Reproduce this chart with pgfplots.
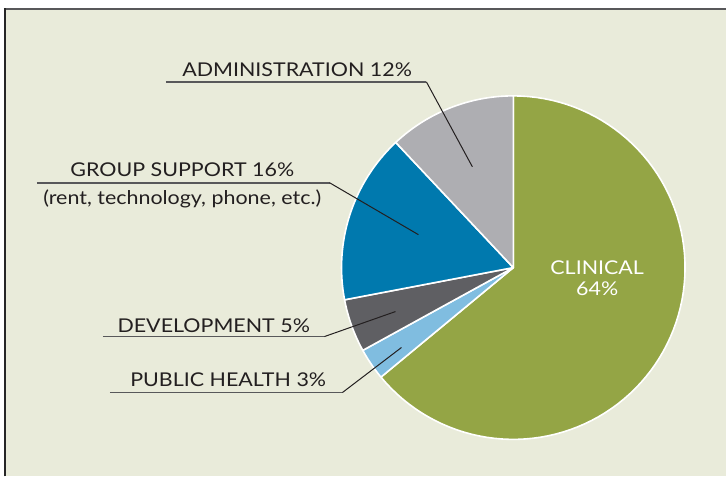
\documentclass[border=0pt]{standalone}
\usepackage{pgfplots}
\pgfplotsset{compat=1.18}
\usepackage{fontspec}
\setmainfont{Lato}[FakeStretch=1.13]
\definecolor{bg}{HTML}{E9EBDA}
\definecolor{clin}{HTML}{94A545}
\definecolor{ph}{HTML}{80BDE0}
\definecolor{dev}{HTML}{5F5F63}
\definecolor{gs}{HTML}{0079AE}
\definecolor{adm}{HTML}{AEAEB2}
\definecolor{txt}{HTML}{231F20}
\definecolor{ul}{HTML}{58585A}
% slice: #1 = cumulative share before slice (%), #2 = share (%), #3 = colour
\newcommand\slice[3]{%
  \addplot[fill=#3, draw=white, line width=1.6pt, line join=round,
    domain={90-3.6*(#1+#2)}:{90-3.6*(#1)}, samples=90, variable=\t]
    ({514+172*cos(\t)},{209+172*sin(\t)}) -- (axis cs:514,209) -- cycle;}
\begin{document}
\begin{tikzpicture}
\begin{axis}[hide axis, scale only axis, width=727pt, height=477pt,
  xmin=0, xmax=727, ymin=0, ymax=477, clip=false]
\fill[white] (axis cs:0,0) rectangle (axis cs:727,477);
\fill[bg] (axis cs:5,0) rectangle (axis cs:727,468);
\draw[ul, line width=2pt] (axis cs:4,468) -- (axis cs:727,468);
\draw[black!85, line width=1.6pt] (axis cs:5,0) -- (axis cs:5,469);
% CLINICAL 64, PUBLIC HEALTH 3, DEVELOPMENT 5, GROUP SUPPORT 16, ADMINISTRATION 12
\slice{0}{64}{clin}
\slice{64}{3}{ph}
\slice{67}{5}{dev}
\slice{72}{16}{gs}
\slice{88}{12}{adm}
% labels
\begin{scope}[font=\fontsize{19}{21}\selectfont, text=txt]
\node[anchor=base, inner sep=0] at (axis cs:297.5,400) {ADMINISTRATION 12\%};
\node[anchor=base, inner sep=0] at (axis cs:182.5,300) {GROUP SUPPORT 16\%};
\node[anchor=base, inner sep=0] at (axis cs:182.5,272) {(rent, technology, phone, etc.)};
\node[anchor=base, inner sep=0] at (axis cs:214,144) {DEVELOPMENT 5\%};
\node[anchor=base, inner sep=0] at (axis cs:228.5,90) {PUBLIC HEALTH 3\%};
\end{scope}
\node[anchor=base, inner sep=0, text=white, font=\fontsize{19}{21}\selectfont] at (axis cs:598,202) {CLINICAL};
\node[anchor=base, inner sep=0, text=white, font=\fontsize{19}{21}\selectfont] at (axis cs:598,181) {64\%};
% underlines and leaders
\draw[ul, line width=1.6pt] (axis cs:166,395) -- (axis cs:427,395);
\draw[txt, line width=1pt] (axis cs:427,395) -- (axis cs:473,310);
\draw[ul, line width=1.6pt] (axis cs:37,294) -- (axis cs:330,294);
\draw[txt, line width=1pt] (axis cs:330,294) -- (axis cs:419,242);
\draw[ul, line width=1.6pt] (axis cs:103,140) -- (axis cs:325,140);
\draw[txt, line width=1pt] (axis cs:325,140) -- (axis cs:396,165);
\draw[ul, line width=1.6pt] (axis cs:110,84) -- (axis cs:343,84);
\draw[txt, line width=1pt] (axis cs:343,84) -- (axis cs:402,129);
\end{axis}
\end{tikzpicture}
\end{document}
